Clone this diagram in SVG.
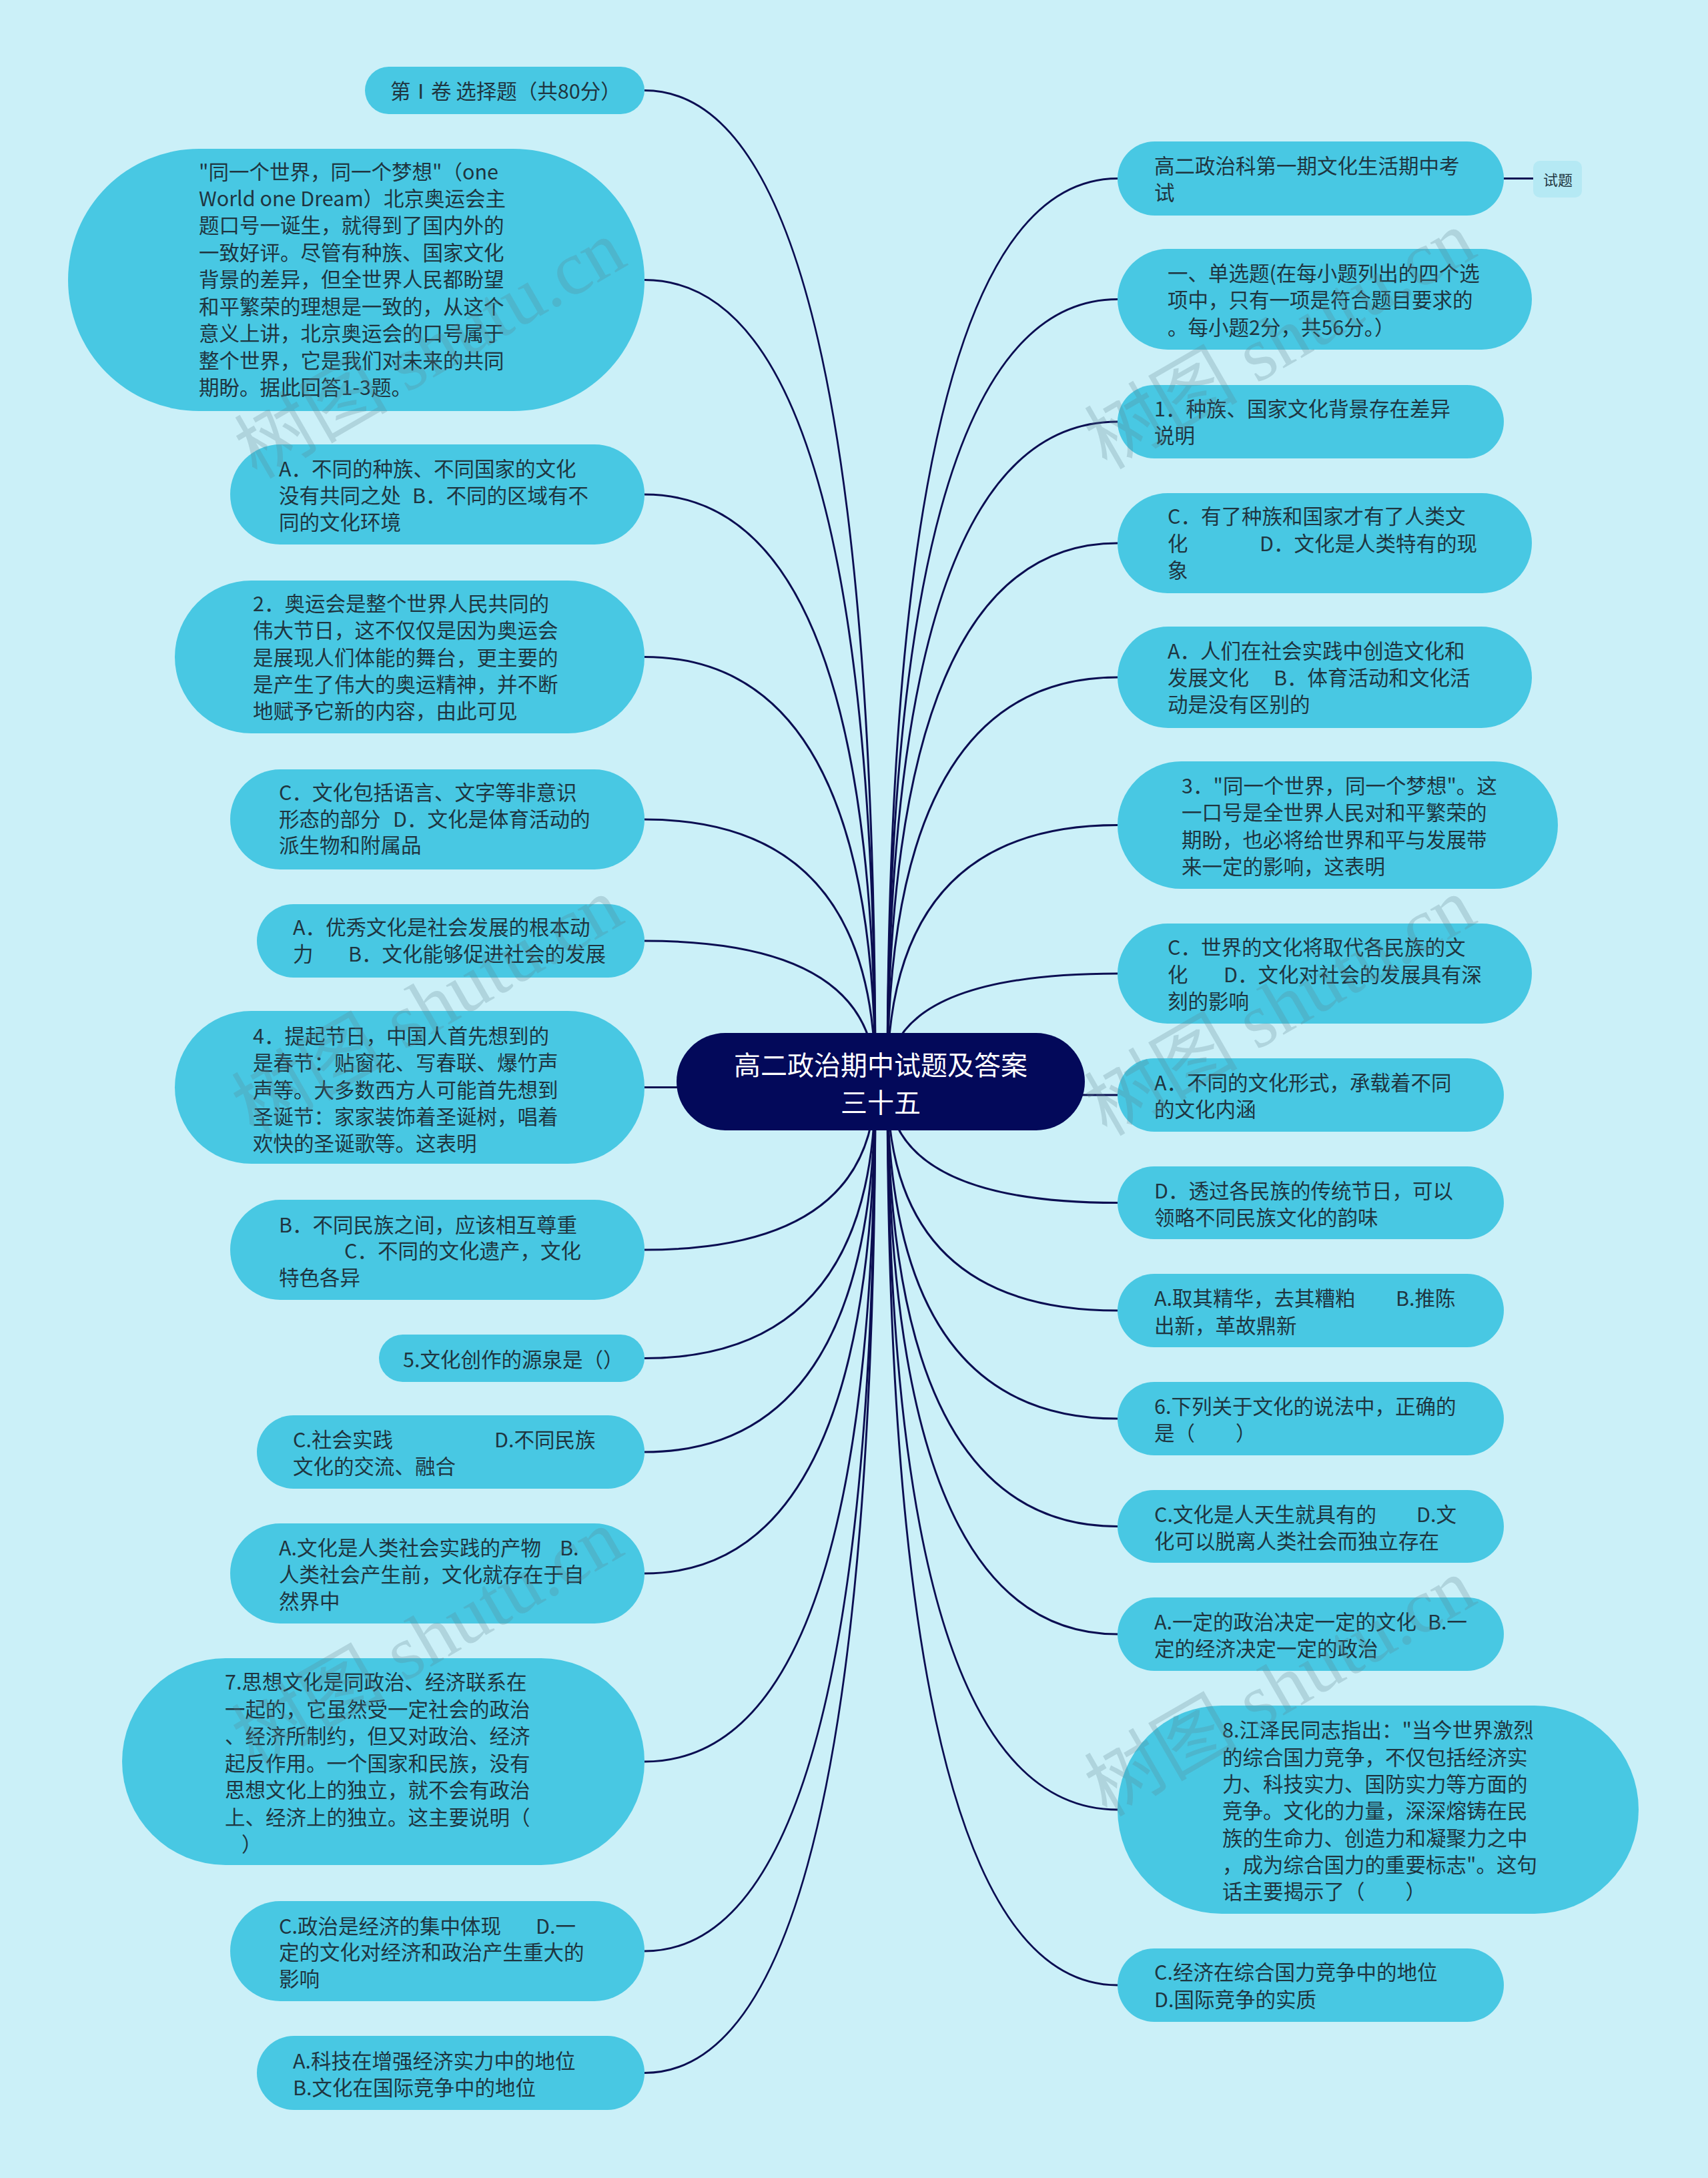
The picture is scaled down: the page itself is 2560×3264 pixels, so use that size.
<svg xmlns="http://www.w3.org/2000/svg" width="2560" height="3264" viewBox="0 0 2560 3264">
<defs>
<style>
.bg{fill:#cbf0f8}
.n{fill:#48c8e3}
.t{font-family:"Noto Sans CJK SC","Noto Sans",sans-serif;font-size:30.5px;fill:#1f3540;dominant-baseline:central}
.c{font-family:"Noto Sans CJK SC","Noto Sans",sans-serif;font-size:40px;fill:#ffffff;dominant-baseline:central;text-anchor:middle}
.s{font-family:"Noto Sans CJK SC","Noto Sans",sans-serif;font-size:22px;fill:#1f3540;dominant-baseline:central;text-anchor:middle}
.e{fill:none;stroke:#0b0e52;stroke-width:3}
.w{font-family:"Liberation Serif","Noto Sans CJK SC",serif;font-size:115px;fill:#5d7f8c;fill-opacity:0.25;text-anchor:middle;dominant-baseline:central}
</style>
</defs>
<rect class="bg" x="0" y="0" width="2560" height="3264"/>
<g id="connectors">
<path class="e" d="M1312,1621 Q1312,135.5 966,135.5"/>
<path class="e" d="M1312,1621 Q1312,419.5 966,419.5"/>
<path class="e" d="M1312,1621 Q1312,741 966,741"/>
<path class="e" d="M1312,1621 Q1312,984.5 966,984.5"/>
<path class="e" d="M1312,1621 Q1312,1228 966,1228"/>
<path class="e" d="M1312,1621 Q1312,1410 966,1410"/>
<path class="e" d="M1312,1621 Q1312,1629.5 966,1629.5"/>
<path class="e" d="M1312,1621 Q1312,1873 966,1873"/>
<path class="e" d="M1312,1621 Q1312,2035.5 966,2035.5"/>
<path class="e" d="M1312,1621 Q1312,2176 966,2176"/>
<path class="e" d="M1312,1621 Q1312,2358 966,2358"/>
<path class="e" d="M1312,1621 Q1312,2640 966,2640"/>
<path class="e" d="M1312,1621 Q1312,2924 966,2924"/>
<path class="e" d="M1312,1621 Q1312,3106.5 966,3106.5"/>
<path class="e" d="M1330,1621 Q1330,267.5 1675,267.5"/>
<path class="e" d="M1330,1621 Q1330,448.5 1675,448.5"/>
<path class="e" d="M1330,1621 Q1330,632 1675,632"/>
<path class="e" d="M1330,1621 Q1330,814 1675,814"/>
<path class="e" d="M1330,1621 Q1330,1015 1675,1015"/>
<path class="e" d="M1330,1621 Q1330,1236.5 1675,1236.5"/>
<path class="e" d="M1330,1621 Q1330,1459 1675,1459"/>
<path class="e" d="M1330,1621 Q1330,1641 1675,1641"/>
<path class="e" d="M1330,1621 Q1330,1802.5 1675,1802.5"/>
<path class="e" d="M1330,1621 Q1330,1964 1675,1964"/>
<path class="e" d="M1330,1621 Q1330,2126 1675,2126"/>
<path class="e" d="M1330,1621 Q1330,2287.5 1675,2287.5"/>
<path class="e" d="M1330,1621 Q1330,2449 1675,2449"/>
<path class="e" d="M1330,1621 Q1330,2712 1675,2712"/>
<path class="e" d="M1330,1621 Q1330,2975 1675,2975"/>
<path class="e" d="M2254,267.5 L2298,267.5"/>
</g>
<g id="center">
<rect x="1014" y="1548" width="612" height="146" rx="73" fill="#03095a"/>
<text class="c" x="1320" y="1594">高二政治期中试题及答案</text>
<text class="c" x="1320" y="1650">三十五</text>
</g>
<g id="L1"><rect class="n" x="547" y="100" width="419" height="71" rx="35.5"/>
<text class="t" x="585" y="135">第Ⅰ卷 选择题（共80分）</text></g>
<g id="L2"><rect class="n" x="102" y="223" width="864" height="393" rx="196.5"/>
<text class="t" x="298" y="256">"同一个世界，同一个梦想"（one</text>
<text class="t" x="298" y="296">World one Dream）北京奥运会主</text>
<text class="t" x="298" y="336">题口号一诞生，就得到了国内外的</text>
<text class="t" x="298" y="377">一致好评。尽管有种族、国家文化</text>
<text class="t" x="298" y="417">背景的差异，但全世界人民都盼望</text>
<text class="t" x="298" y="458">和平繁荣的理想是一致的，从这个</text>
<text class="t" x="298" y="498">意义上讲，北京奥运会的口号属于</text>
<text class="t" x="298" y="539">整个世界，它是我们对未来的共同</text>
<text class="t" x="298" y="579">期盼。据此回答1-3题。</text></g>
<g id="L3"><rect class="n" x="345" y="666" width="621" height="150" rx="75"/>
<text class="t" x="418" y="701">A．不同的种族、不同国家的文化</text>
<text class="t" x="418" y="741">没有共同之处</text><text class="t" x="618" y="741">B．不同的区域有不</text>
<text class="t" x="418" y="781">同的文化环境</text></g>
<g id="L4"><rect class="n" x="262" y="870" width="704" height="229" rx="114.5"/>
<text class="t" x="379" y="903">2．奥运会是整个世界人民共同的</text>
<text class="t" x="379" y="943">伟大节日，这不仅仅是因为奥运会</text>
<text class="t" x="379" y="984">是展现人们体能的舞台，更主要的</text>
<text class="t" x="379" y="1024">是产生了伟大的奥运精神，并不断</text>
<text class="t" x="379" y="1064">地赋予它新的内容，由此可见</text></g>
<g id="L5"><rect class="n" x="345" y="1153" width="621" height="150" rx="75"/>
<text class="t" x="418" y="1186">C．文化包括语言、文字等非意识</text>
<text class="t" x="418" y="1226">形态的部分</text><text class="t" x="589" y="1226">D．文化是体育活动的</text>
<text class="t" x="418" y="1265">派生物和附属品</text></g>
<g id="L6"><rect class="n" x="385" y="1355" width="581" height="110" rx="55"/>
<text class="t" x="439" y="1388">A．优秀文化是社会发展的根本动</text>
<text class="t" x="439" y="1428">力</text><text class="t" x="522" y="1428">B．文化能够促进社会的发展</text></g>
<g id="L7"><rect class="n" x="262" y="1515" width="704" height="229" rx="114.5"/>
<text class="t" x="379" y="1551">4．提起节日，中国人首先想到的</text>
<text class="t" x="379" y="1591">是春节：贴窗花、写春联、爆竹声</text>
<text class="t" x="379" y="1632">声等。大多数西方人可能首先想到</text>
<text class="t" x="379" y="1672">圣诞节：家家装饰着圣诞树，唱着</text>
<text class="t" x="379" y="1712">欢快的圣诞歌等。这表明</text></g>
<g id="L8"><rect class="n" x="345" y="1798" width="621" height="150" rx="75"/>
<text class="t" x="418" y="1834">B．不同民族之间，应该相互尊重</text>
<text class="t" x="516" y="1873">C．不同的文化遗产，文化</text>
<text class="t" x="418" y="1913">特色各异</text></g>
<g id="L9"><rect class="n" x="568" y="2000" width="398" height="71" rx="35.5"/>
<text class="t" x="604" y="2036">5.文化创作的源泉是（）</text></g>
<g id="L10"><rect class="n" x="385" y="2121" width="581" height="110" rx="55"/>
<text class="t" x="439" y="2156">C.社会实践</text><text class="t" x="741" y="2156">D.不同民族</text>
<text class="t" x="439" y="2196">文化的交流、融合</text></g>
<g id="L11"><rect class="n" x="345" y="2283" width="621" height="150" rx="75"/>
<text class="t" x="418" y="2318">A.文化是人类社会实践的产物</text><text class="t" x="839" y="2318">B.</text>
<text class="t" x="418" y="2358">人类社会产生前，文化就存在于自</text>
<text class="t" x="418" y="2398">然界中</text></g>
<g id="L12"><rect class="n" x="183" y="2485" width="783" height="310" rx="155"/>
<text class="t" x="337" y="2519">7.思想文化是同政治、经济联系在</text>
<text class="t" x="337" y="2560">一起的，它虽然受一定社会的政治</text>
<text class="t" x="337" y="2600">、经济所制约，但又对政治、经济</text>
<text class="t" x="337" y="2641">起反作用。一个国家和民族，没有</text>
<text class="t" x="337" y="2681">思想文化上的独立，就不会有政治</text>
<text class="t" x="337" y="2722">上、经济上的独立。这主要说明（</text>
<text class="t" x="362" y="2762">）</text></g>
<g id="L13"><rect class="n" x="345" y="2849" width="621" height="150" rx="75"/>
<text class="t" x="418" y="2885">C.政治是经济的集中体现</text><text class="t" x="803" y="2885">D.一</text>
<text class="t" x="418" y="2924">定的文化对经济和政治产生重大的</text>
<text class="t" x="418" y="2964">影响</text></g>
<g id="L14"><rect class="n" x="385" y="3051" width="581" height="111" rx="55.5"/>
<text class="t" x="439" y="3087">A.科技在增强经济实力中的地位</text>
<text class="t" x="439" y="3127">B.文化在国际竞争中的地位</text></g>
<g id="R1"><rect class="n" x="1675" y="212" width="579" height="111" rx="55.5"/>
<text class="t" x="1730" y="247">高二政治科第一期文化生活期中考</text>
<text class="t" x="1730" y="287">试</text></g>
<g id="R1a"><rect x="2298" y="241" width="73" height="55" rx="10" fill="#b5e9f4"/>
<text class="s" x="2335" y="268">试题</text></g>
<g id="R2"><rect class="n" x="1675" y="373" width="621" height="151" rx="75.5"/>
<text class="t" x="1750" y="408">一、单选题(在每小题列出的四个选</text>
<text class="t" x="1750" y="448">项中，只有一项是符合题目要求的</text>
<text class="t" x="1750" y="489">。每小题2分，共56分。）</text></g>
<g id="R3"><rect class="n" x="1675" y="577" width="579" height="110" rx="55"/>
<text class="t" x="1730" y="611">1．种族、国家文化背景存在差异</text>
<text class="t" x="1730" y="651">说明</text></g>
<g id="R4"><rect class="n" x="1675" y="739" width="621" height="150" rx="75"/>
<text class="t" x="1750" y="772">C．有了种族和国家才有了人类文</text>
<text class="t" x="1750" y="813">化</text><text class="t" x="1888" y="813">D．文化是人类特有的现</text>
<text class="t" x="1750" y="853">象</text></g>
<g id="R5"><rect class="n" x="1675" y="939" width="621" height="152" rx="76"/>
<text class="t" x="1750" y="974">A．人们在社会实践中创造文化和</text>
<text class="t" x="1750" y="1014">发展文化</text><text class="t" x="1909" y="1014">B．体育活动和文化活</text>
<text class="t" x="1750" y="1054">动是没有区别的</text></g>
<g id="R6"><rect class="n" x="1675" y="1141" width="660" height="191" rx="95.5"/>
<text class="t" x="1771" y="1176">3．"同一个世界，同一个梦想"。这</text>
<text class="t" x="1771" y="1216">一口号是全世界人民对和平繁荣的</text>
<text class="t" x="1771" y="1257">期盼，也必将给世界和平与发展带</text>
<text class="t" x="1771" y="1297">来一定的影响，这表明</text></g>
<g id="R7"><rect class="n" x="1675" y="1384" width="621" height="150" rx="75"/>
<text class="t" x="1750" y="1418">C．世界的文化将取代各民族的文</text>
<text class="t" x="1750" y="1459">化</text><text class="t" x="1834" y="1459">D．文化对社会的发展具有深</text>
<text class="t" x="1750" y="1499">刻的影响</text></g>
<g id="R8"><rect class="n" x="1675" y="1586" width="579" height="110" rx="55"/>
<text class="t" x="1730" y="1621">A．不同的文化形式，承载着不同</text>
<text class="t" x="1730" y="1661">的文化内涵</text></g>
<g id="R9"><rect class="n" x="1675" y="1748" width="579" height="109" rx="54.5"/>
<text class="t" x="1730" y="1783">D．透过各民族的传统节日，可以</text>
<text class="t" x="1730" y="1823">领略不同民族文化的韵味</text></g>
<g id="R10"><rect class="n" x="1675" y="1909" width="579" height="110" rx="55"/>
<text class="t" x="1730" y="1944">A.取其精华，去其糟粕</text><text class="t" x="2092" y="1944">B.推陈</text>
<text class="t" x="1730" y="1985">出新，革故鼎新</text></g>
<g id="R11"><rect class="n" x="1675" y="2071" width="579" height="110" rx="55"/>
<text class="t" x="1730" y="2106">6.下列关于文化的说法中，正确的</text>
<text class="t" x="1730" y="2146">是（　　）</text></g>
<g id="R12"><rect class="n" x="1675" y="2233" width="579" height="109" rx="54.5"/>
<text class="t" x="1730" y="2268">C.文化是人天生就具有的</text><text class="t" x="2123" y="2268">D.文</text>
<text class="t" x="1730" y="2308">化可以脱离人类社会而独立存在</text></g>
<g id="R13"><rect class="n" x="1675" y="2394" width="579" height="110" rx="55"/>
<text class="t" x="1730" y="2429">A.一定的政治决定一定的文化</text><text class="t" x="2140" y="2429">B.一</text>
<text class="t" x="1730" y="2469">定的经济决定一定的政治</text></g>
<g id="R14"><rect class="n" x="1675" y="2556" width="781" height="312" rx="156"/>
<text class="t" x="1832" y="2591">8.江泽民同志指出："当今世界激烈</text>
<text class="t" x="1832" y="2632">的综合国力竞争，不仅包括经济实</text>
<text class="t" x="1832" y="2672">力、科技实力、国防实力等方面的</text>
<text class="t" x="1832" y="2712">竞争。文化的力量，深深熔铸在民</text>
<text class="t" x="1832" y="2753">族的生命力、创造力和凝聚力之中</text>
<text class="t" x="1832" y="2793">，成为综合国力的重要标志"。这句</text>
<text class="t" x="1832" y="2833">话主要揭示了（　　）</text></g>
<g id="R15"><rect class="n" x="1675" y="2920" width="579" height="110" rx="55"/>
<text class="t" x="1730" y="2954">C.经济在综合国力竞争中的地位</text>
<text class="t" x="1730" y="2995">D.国际竞争的实质</text></g>
<g id="watermarks">
<text class="w" transform="translate(645,524) rotate(-30)">树图 shutu.cn</text>
<text class="w" transform="translate(641,1509) rotate(-30)">树图 shutu.cn</text>
<text class="w" transform="translate(641,2456) rotate(-30)">树图 shutu.cn</text>
<text class="w" transform="translate(1919,510) rotate(-30)">树图 shutu.cn</text>
<text class="w" transform="translate(1919,1509) rotate(-30)">树图 shutu.cn</text>
<text class="w" transform="translate(1919,2529) rotate(-30)">树图 shutu.cn</text>
</g>
</svg>
